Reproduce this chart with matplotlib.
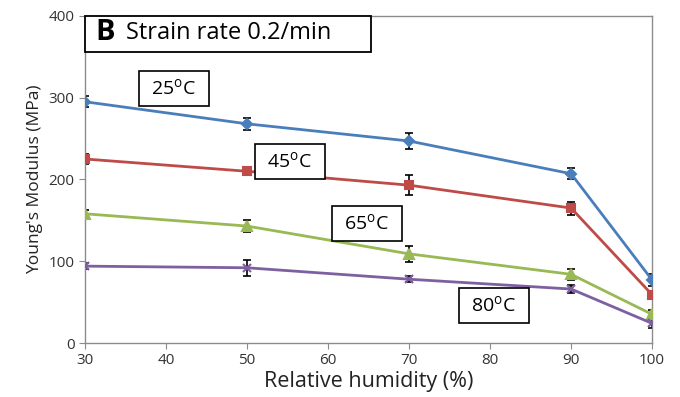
import matplotlib.pyplot as plt

plt.rcParams['font.family'] = ['Open Sans', 'DejaVu Sans']
plt.rcParams['mathtext.fontset'] = 'custom'
plt.rcParams['mathtext.rm'] = 'Open Sans'

humidity = [30, 50, 70, 90, 100]

modulus_25 = [295, 268, 247, 207, 77]
modulus_45 = [225, 210, 193, 165, 59]
modulus_65 = [158, 143, 109, 84, 35]
modulus_80 = [94, 92, 78, 66, 24]

err_25 = [7, 7, 10, 7, 7]
err_45 = [6, 5, 12, 8, 3]
err_65 = [5, 7, 10, 7, 5]
err_80 = [4, 10, 4, 5, 6]

temperatures = ['25', '45', '65', '80']

x_ticks = [30, 40, 50, 60, 70, 80, 90, 100]
y_ticks = [0, 100, 200, 300, 400]


def main():
    fig = plt.figure(figsize=(6.8, 3.97), dpi=100)
    ax = fig.add_axes([0.125, 0.136, 0.834, 0.824])

    series = [
        (modulus_25, err_25, '#4A7EBB', 'D', 5, (41.0, 311)),
        (modulus_45, err_45, '#BE4B48', 's', 6, (55.3, 222)),
        (modulus_65, err_65, '#98B954', '^', 7, (64.8, 146)),
        (modulus_80, err_80, '#7D60A0', 'x', 6, (80.5, 46)),
    ]

    for (values, errs, color, marker, msize, pos), temp in zip(series, temperatures):
        ax.errorbar(humidity, values, yerr=errs, fmt='none', ecolor='black',
                    elinewidth=1.2, capsize=3, capthick=1.2, zorder=2)
        ax.plot(humidity, values, color=color, lw=2, marker=marker,
                markersize=msize, markeredgewidth=1.5, zorder=3)
        label = r' %s$^{\mathrm{o}}$C  ' % temp
        ax.text(pos[0], pos[1], label, ha='center', va='center', fontsize=14,
                bbox=dict(boxstyle='square,pad=0.36', fc='white', ec='black', lw=1.2),
                zorder=4)

    ax.text(0.018, 0.949, 'B', transform=ax.transAxes, ha='left', va='center',
            fontsize=21, fontweight='bold', zorder=5)
    ax.text(0.072, 0.947, 'Strain rate 0.2/min', transform=ax.transAxes,
            ha='left', va='center', fontsize=17, zorder=5)
    ax.add_patch(plt.Rectangle((0.0, 0.89), 0.504, 0.11, transform=ax.transAxes,
                               fc='white', ec='black', lw=1.3, zorder=4,
                               clip_on=False))

    ax.set_xlim(30, 100)
    ax.set_ylim(0, 400)
    ax.set_xticks(x_ticks)
    ax.set_yticks(y_ticks)
    for spine in ax.spines.values():
        spine.set_color('#8c8c8c')
        spine.set_linewidth(1)
    ax.tick_params(axis='both', direction='out', length=4, color='#8c8c8c',
                   labelsize=11, labelcolor='#333333')
    ax.set_xlabel('Relative humidity (%)', fontsize=15.5, color='#222222', labelpad=2)
    ax.set_ylabel("Young's Modulus (MPa)", fontsize=12.5, color='#222222', labelpad=4)

    fig.savefig('out.png', dpi=100)


if __name__ == '__main__':
    main()
